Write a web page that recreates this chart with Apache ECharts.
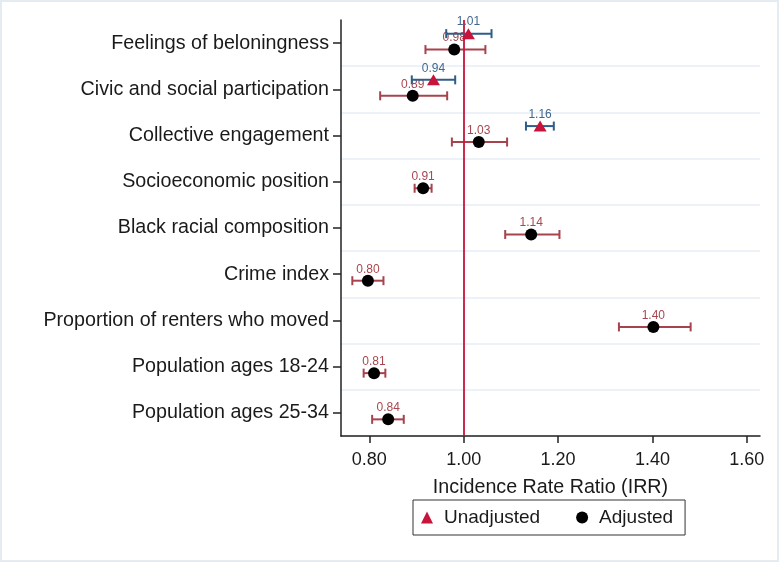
<!DOCTYPE html>
<html>
<head>
<meta charset="utf-8">
<script src="https://cdn.jsdelivr.net/npm/echarts@6/dist/echarts.min.js"></script>
<style>
  html, body { margin: 0; padding: 0; background: #fff; }
  #chart { width: 780px; height: 563px; }
</style>
</head>
<body>
<div id="chart"></div>
<script>
// ---- Data ----
const categories = [
  'Feelings of beloningness',
  'Civic and social participation',
  'Collective engagement',
  'Socioeconomic position',
  'Black racial composition',
  'Crime index',
  'Proportion of renters who moved',
  'Population ages 18-24',
  'Population ages 25-34'
];
// Unadjusted IRR (only first three rows)
const unadjIRR  = [1.010, 0.936, 1.162, null, null, null, null, null, null];
const unadjLow  = [0.963, 0.890, 1.132, null, null, null, null, null, null];
const unadjHigh = [1.059, 0.982, 1.191, null, null, null, null, null, null];
// Adjusted IRR
const adjIRR  = [0.980, 0.892, 1.032, 0.914, 1.143, 0.797, 1.402, 0.810, 0.840];
const adjLow  = [0.919, 0.823, 0.975, 0.896, 1.088, 0.764, 1.329, 0.788, 0.806];
const adjHigh = [1.046, 0.965, 1.092, 0.932, 1.203, 0.830, 1.481, 0.834, 0.873];
const xTicks = [0.8, 1.0, 1.2, 1.4, 1.6];
const refValue = 1.0;

// ---- Styles ----
const FONT = '"Liberation Sans", Arial, sans-serif';
const UNADJ_BAR = '#2f5d8a';
const UNADJ_LABEL = '#3f6890';
const ADJ_BAR = '#a6434c';
const ADJ_LABEL = '#a8474f';
const RED = '#c8143a';
const UNADJ_OFF = -0.205; // fraction of band height
const ADJ_OFF = 0.14;

function buildRows(irr, lo, hi) {
  const out = [];
  for (let i = 0; i < irr.length; i++) {
    if (irr[i] != null) out.push([irr[i], i, lo[i], hi[i]]);
  }
  return out;
}
const unadjRows = buildRows(unadjIRR, unadjLow, unadjHigh);
const adjRows = buildRows(adjIRR, adjLow, adjHigh);

function makeRender(offFrac, barColor, labelColor) {
  return function (params, api) {
    const cat = api.value(1);
    const band = api.size([0, 1])[1];
    const dy = band * offFrac;
    const p = api.coord([api.value(0), cat]);
    const l = api.coord([api.value(2), cat]);
    const h = api.coord([api.value(3), cat]);
    const y = p[1] + dy;
    const cap = 4.5;
    const st = { stroke: barColor, lineWidth: 2 };
    return {
      type: 'group',
      children: [
        { type: 'line', shape: { x1: l[0], y1: y, x2: h[0], y2: y }, style: st },
        { type: 'line', shape: { x1: l[0], y1: y - cap, x2: l[0], y2: y + cap }, style: st },
        { type: 'line', shape: { x1: h[0], y1: y - cap, x2: h[0], y2: y + cap }, style: st },
        { type: 'text', x: p[0], y: y - 11.5, style: {
            text: api.value(0).toFixed(2), fill: labelColor, font: '12px ' + FONT,
            align: 'center', verticalAlign: 'middle' } }
      ]
    };
  };
}

const chart = echarts.init(document.getElementById('chart'), null, { renderer: 'canvas' });
const option = {
  backgroundColor: '#ffffff',
  animation: false,
  textStyle: { fontFamily: FONT },
  graphic: [{
    type: 'rect', silent: true, z: -1,
    shape: { x: 1, y: 1, width: 777, height: 560 },
    style: { fill: null, stroke: '#e4ecf1', lineWidth: 2 }
  }],
  grid: { left: 341, top: 20, right: 20, bottom: 127, containLabel: false },
  xAxis: {
    type: 'value', min: 0.74, max: 1.628,
    name: 'Incidence Rate Ratio (IRR)', nameLocation: 'middle', nameGap: 42,
    nameTextStyle: { fontSize: 19.7, color: '#1a1a1a', fontFamily: FONT },
    axisLine: { show: true, lineStyle: { color: '#222', width: 1.5 } },
    axisTick: { show: true, inside: false, length: 7, customValues: xTicks, lineStyle: { color: '#222', width: 1.5 } },
    axisLabel: { customValues: xTicks, formatter: v => v.toFixed(2), fontSize: 18, color: '#1a1a1a', margin: 15, fontFamily: FONT },
    splitLine: { show: false }
  },
  yAxis: {
    type: 'category', data: categories, inverse: true, boundaryGap: true,
    axisLine: { show: true, lineStyle: { color: '#222', width: 1.5 } },
    axisTick: { show: true, alignWithLabel: true, length: 8, lineStyle: { color: '#222', width: 1.5 } },
    axisLabel: { fontSize: 19.7, color: '#1a1a1a', margin: 12, fontFamily: FONT },
    splitLine: { show: true, interval: (idx) => idx > 0, lineStyle: { color: '#e6eef4', width: 1.5 } }
  },
  legend: {
    data: ['Unadjusted', 'Adjusted'],
    left: 413, top: 500,
    orient: 'horizontal',
    borderColor: '#333', borderWidth: 1, borderRadius: 0,
    padding: [8, 12, 8, 8],
    itemWidth: 12, itemHeight: 12, itemGap: 36,
    textStyle: { fontSize: 19, color: '#1a1a1a', fontFamily: FONT, padding: [0, 0, 0, 6] }
  },
  series: [
    {
      type: 'custom', name: 'adjBars', z: 2,
      renderItem: makeRender(ADJ_OFF, ADJ_BAR, ADJ_LABEL),
      data: adjRows, encode: { x: 0, y: 1 }
    },
    {
      type: 'scatter', name: 'Adjusted', z: 4,
      symbol: 'circle', symbolSize: 12,
      itemStyle: { color: '#000', opacity: 1 },
      data: adjRows.map(r => [r[0], r[1]]),
      symbolOffset: [0, 0],
      markLine: {
        silent: true, symbol: 'none', z: 3,
        label: { show: false },
        lineStyle: { color: RED, width: 1.8, type: 'solid' },
        data: [{ xAxis: refValue }]
      }
    },
    {
      type: 'custom', name: 'unadjBars', z: 5,
      renderItem: makeRender(UNADJ_OFF, UNADJ_BAR, UNADJ_LABEL),
      data: unadjRows, encode: { x: 0, y: 1 }
    },
    {
      type: 'scatter', name: 'Unadjusted', z: 6,
      symbol: 'triangle', symbolSize: [13, 11],
      itemStyle: { color: RED, opacity: 1 },
      data: unadjRows.map(r => [r[0], r[1]])
    }
  ]
};
// symbol offsets follow band fraction
const band = 416 / categories.length;
option.series[1].symbolOffset = [0, band * ADJ_OFF];
option.series[3].symbolOffset = [0, band * UNADJ_OFF];
chart.setOption(option);
</script>
</body>
</html>
